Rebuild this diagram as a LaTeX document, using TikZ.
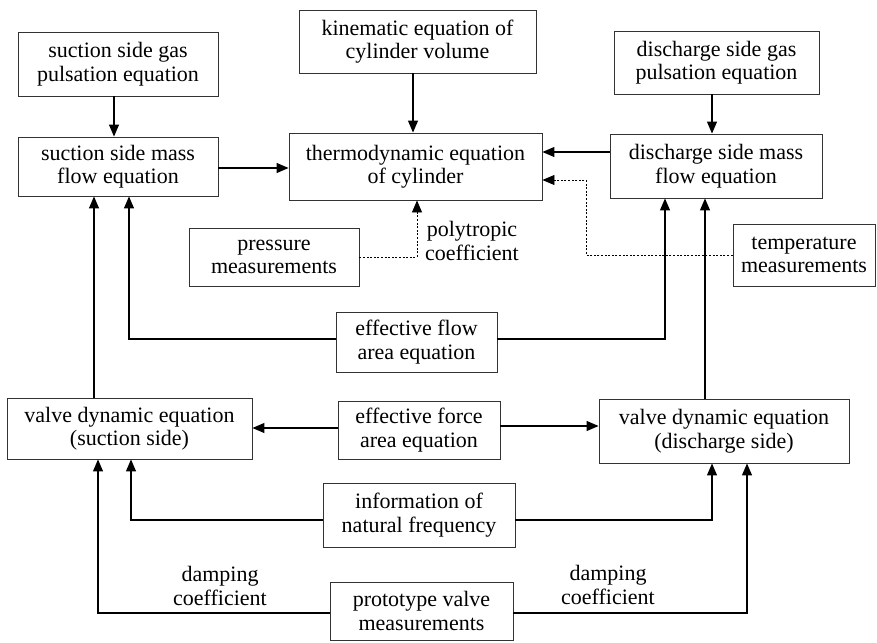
\documentclass[tikz,border=0pt]{standalone}
\usepackage{fontspec}
\setmainfont{Liberation Serif}
\usetikzlibrary{arrows.meta}
\begin{document}
\begin{tikzpicture}[x=1pt,y=-1pt,
  box/.style={draw=black!80,line width=0.9pt,align=center,inner sep=0pt,
    font=\fontsize{22}{23.5}\selectfont},
  lbl/.style={align=center,inner sep=0pt,font=\fontsize{22}{23.5}\selectfont},
  link/.style={line width=1.2pt,-{Triangle[length=12pt,width=10pt]}},
  meas/.style={line width=0.9pt,dash pattern=on 2pt off 1.6pt,-{Triangle[length=12pt,width=10pt]}}]
\useasboundingbox (0,0) rectangle (877,642);
\fill[white] (0,0) rectangle (877,642);

% model blocks
\node[box,minimum width=200pt,minimum height=64pt] (sgas) at (118,64) {suction side gas\\pulsation equation};
\node[box,minimum width=200pt,minimum height=59pt] (smass) at (118,166.5) {suction side mass\\flow equation};
\node[box,minimum width=237pt,minimum height=63pt] (kin) at (417.5,41.5) {kinematic equation of\\cylinder volume};
\node[box,minimum width=253pt,minimum height=67pt] (thermo) at (415.5,166.5) {thermodynamic equation\\of cylinder};
\node[box,minimum width=205pt,minimum height=63pt] (dgas) at (716.5,62.5) {discharge side gas\\pulsation equation};
\node[box,minimum width=212pt,minimum height=64pt] (dmass) at (716,166) {discharge side mass\\flow equation};
\node[box,minimum width=170pt,minimum height=58pt] (press) at (274,257) {pressure\\measurements};
\node[box,minimum width=142pt,minimum height=62pt] (temp) at (804,255) {temperature\\measurements};
\node[box,minimum width=161pt,minimum height=60pt] (eflow) at (416.5,342) {effective flow\\area equation};
\node[box,minimum width=245pt,minimum height=61pt] (vsuc) at (129.5,428.5) {valve dynamic equation\\(suction side)};
\node[box,minimum width=162pt,minimum height=58pt] (eforce) at (419,430) {effective force\\area equation};
\node[box,minimum width=250pt,minimum height=64pt] (vdis) at (724,431) {valve dynamic equation\\(discharge side)};
\node[box,minimum width=192pt,minimum height=64pt] (info) at (419,515) {information of\\natural frequency};
\node[box,minimum width=183pt,minimum height=58pt] (proto) at (421.5,611) {prototype valve\\measurements};

% labels on connectors
\node[lbl] (poly) at (472,241) {polytropic\\coefficient};
\node[lbl] (dampl) at (220,586) {damping\\coefficient};
\node[lbl] (dampr) at (608,585) {damping\\coefficient};

% gas pulsation and kinematics
\draw[link] (sgas.south -| 114,0) -- (smass.north -| 114,0);
\draw[link] (kin.south -| 413,0) -- (thermo.north -| 413,0);
\draw[link] (dgas.south -| 712,0) -- (dmass.north -| 712,0);

% mass flows into the cylinder
\draw[link] (smass.east |- 0,168) -- (thermo.west |- 0,168);
\draw[link] (dmass.west |- 0,152) -- (thermo.east |- 0,152);

% measurements
\draw[meas] (temp.west |- 0,255) -| (586,180) -- (thermo.east |- 0,180);
\draw[meas] (press.east |- 0,257) -| (thermo.south -| 417,0);

% effective flow area
\draw[link] (eflow.west |- 0,339) -| (smass.south -| 129,0);
\draw[link] (eflow.east |- 0,339) -| (dmass.south -| 665,0);

% valve dynamics to mass flow
\draw[link] (vsuc.north -| 94,0) -- (smass.south -| 94,0);
\draw[link] (vdis.north -| 705,0) -- (dmass.south -| 705,0);

% effective force area
\draw[link] (eforce.west |- 0,428) -- (vsuc.east |- 0,428);
\draw[link] (eforce.east |- 0,426) -- (vdis.west |- 0,426);

% natural frequency
\draw[link] (info.west |- 0,520) -| (vsuc.south -| 131,0);
\draw[link] (info.east |- 0,520) -| (vdis.south -| 712,0);

% damping from prototype measurements
\draw[link] (proto.west |- 0,613) -| (vsuc.south -| 98,0);
\draw[link] (proto.east |- 0,613) -| (vdis.south -| 747,0);
\end{tikzpicture}
\end{document}
